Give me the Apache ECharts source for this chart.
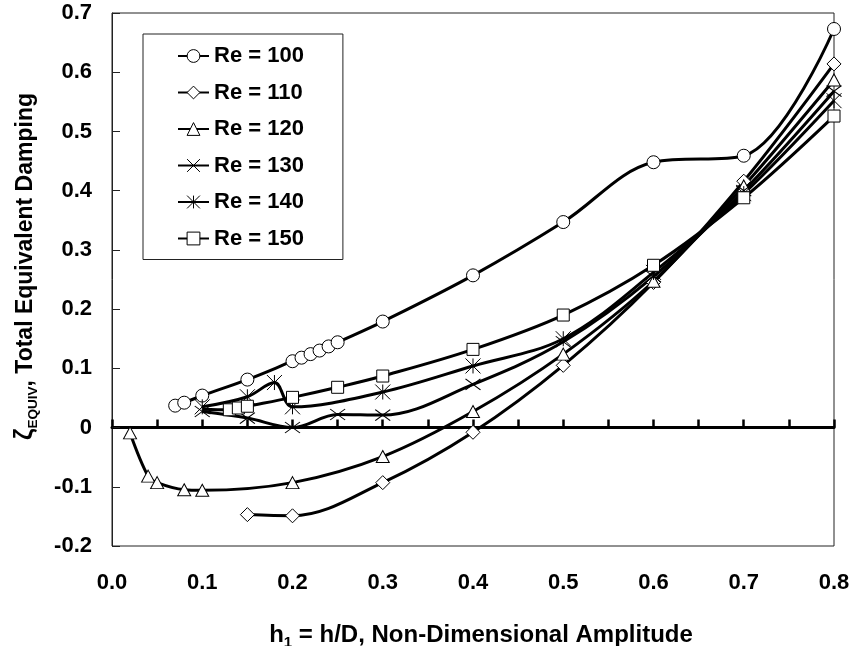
<!DOCTYPE html>
<html>
<head>
<meta charset="utf-8">
<script src="https://cdn.jsdelivr.net/npm/echarts@6/dist/echarts.min.js"></script>
<style>
html,body{margin:0;padding:0;background:#fff}
#c{width:854px;height:646px}
</style>
</head>
<body>
<div id="c"></div>
<script>
// ---------- data ----------
const seriesNames = ['Re = 100', 'Re = 110', 'Re = 120', 'Re = 130', 'Re = 140', 'Re = 150'];

const h100 = [0.07, 0.08, 0.10, 0.15, 0.20, 0.21, 0.22, 0.23, 0.24, 0.25, 0.30, 0.40, 0.50, 0.60, 0.70, 0.80];
const z100 = [0.037, 0.042, 0.054, 0.081, 0.112, 0.118, 0.124, 0.130, 0.137, 0.144, 0.179, 0.257, 0.347, 0.448, 0.459, 0.673];

const h110 = [0.15, 0.20, 0.30, 0.40, 0.50, 0.60, 0.70, 0.80];
const z110 = [-0.147, -0.149, -0.093, -0.008, 0.105, 0.245, 0.416, 0.614];

const h120 = [0.02, 0.04, 0.05, 0.08, 0.10, 0.20, 0.30, 0.40, 0.50, 0.60, 0.70, 0.80];
const z120 = [-0.009, -0.082, -0.093, -0.105, -0.106, -0.093, -0.049, 0.027, 0.124, 0.247, 0.408, 0.587];

const h130 = [0.10, 0.15, 0.20, 0.25, 0.30, 0.40, 0.50, 0.60, 0.70, 0.80];
const z130 = [0.027, 0.016, 0.000, 0.022, 0.021, 0.073, 0.145, 0.255, 0.400, 0.568];

const h140 = [0.10, 0.15, 0.18, 0.20, 0.30, 0.40, 0.50, 0.60, 0.70, 0.80];
const z140 = [0.035, 0.052, 0.076, 0.035, 0.060, 0.104, 0.150, 0.262, 0.395, 0.552];

const h150 = [0.10, 0.13, 0.14, 0.15, 0.20, 0.25, 0.30, 0.40, 0.50, 0.60, 0.70, 0.80];
const z150 = [0.031, 0.030, 0.033, 0.036, 0.051, 0.068, 0.087, 0.132, 0.190, 0.274, 0.388, 0.526];
const hiddenMarkers150 = [0];   // point drawn as line only (no visible marker)

const xTickLabels = ['0.0', '0.1', '0.2', '0.3', '0.4', '0.5', '0.6', '0.7', '0.8'];
const yTickLabels = ['-0.2', '-0.1', '0', '0.1', '0.2', '0.3', '0.4', '0.5', '0.6', '0.7'];

const xTitle = ['h', '1', ' = h/D, Non-Dimensional Amplitude'];
const yTitle = ['ζ', 'EQUIV', ', Total Equivalent Damping'];

// ---------- chart ----------
const X_MIN = 0, X_MAX = 0.8, X_STEP = 0.1;
const Y_MIN = -0.2, Y_MAX = 0.7, Y_STEP = 0.1;
const FONT = '"Liberation Sans", Arial, Helvetica, sans-serif';

const X_PATH = 'path://M0,0L20,14M20,0L0,14';
const STAR_PATH = 'path://M0,0L14,14M14,0L0,14M7,0L7,14';

const symbols = ['circle', 'diamond', 'triangle', X_PATH, STAR_PATH, 'rect'];
const symbolSizes = [13, 14, [13, 12], [15, 11], 15, 12];
const xs = [h100, h110, h120, h130, h140, h150];
const ys = [z100, z110, z120, z130, z140, z150];
const hidden = [[], [], [], [], [], hiddenMarkers150];

const series = seriesNames.map((name, i) => ({
  name: name,
  type: 'line',
  xAxisIndex: 0,
  yAxisIndex: 0,
  smooth: 0.35,
  symbol: symbols[i],
  symbolSize: symbolSizes[i],
  showSymbol: true,
  showAllSymbol: true,
  clip: false,
  lineStyle: { color: '#000', width: 3 },
  itemStyle: { color: '#fff', borderColor: '#000', borderWidth: 1 },
  emphasis: { disabled: true },
  data: xs[i].map((x, k) => hidden[i].indexOf(k) >= 0
      ? { value: [x, ys[i][k]], symbol: 'none' }
      : [x, ys[i][k]])
}));

const chart = echarts.init(document.getElementById('c'), null, { renderer: 'canvas' });

chart.setOption({
  animation: false,
  backgroundColor: '#fff',
  grid: {
    left: 112, right: 20, top: 13, bottom: 100,
    show: true, borderColor: '#222', borderWidth: 1, backgroundColor: 'transparent',
    containLabel: false, outerBoundsMode: 'none'
  },
  legend: {
    show: true,
    orient: 'vertical',
    left: 143, top: 34,
    padding: [11, 39, 10, 34],
    itemWidth: 31, itemHeight: 16, itemGap: 14.5,
    backgroundColor: '#fff', borderColor: '#222', borderWidth: 1,
    selectedMode: false,
    itemStyle: { borderWidth: 1 },
    textStyle: { fontFamily: FONT, fontSize: 22, fontWeight: 'bold', color: '#000' },
    data: seriesNames
  },
  xAxis: [
    {
      type: 'value', position: 'bottom', gridIndex: 0,
      min: X_MIN, max: X_MAX, interval: 0.05,
      axisLine: { show: true, onZero: true, lineStyle: { color: '#000', width: 3 } },
      axisTick: { show: true, inside: true, length: 8, lineStyle: { color: '#000', width: 2.5 } },
      axisLabel: { show: false },
      splitLine: { show: false }
    },
    {
      type: 'value', position: 'bottom', gridIndex: 0,
      min: X_MIN, max: X_MAX, interval: X_STEP,
      axisLine: { show: false, onZero: false },
      axisTick: { show: false },
      splitLine: { show: false },
      axisLabel: {
        margin: 26, fontFamily: FONT, fontSize: 22, fontWeight: 'bold', color: '#000',
        formatter: v => xTickLabels[Math.round((v - X_MIN) / X_STEP)]
      },
      name: '{a|' + xTitle[0] + '}{s|' + xTitle[1] + '}{a|' + xTitle[2] + '}',
      nameLocation: 'middle',
      nameGap: 74,
      nameMoveOverlap: false,
      nameTextStyle: {
        padding: [0, 0, 0, 16],
        rich: {
          a: { fontFamily: FONT, fontSize: 24, fontWeight: 'bold', color: '#000', lineHeight: 30 },
          s: { fontFamily: FONT, fontSize: 15, fontWeight: 'bold', color: '#000', lineHeight: 15, verticalAlign: 'bottom' }
        }
      }
    }
  ],
  yAxis: {
    type: 'value', min: Y_MIN, max: Y_MAX, interval: Y_STEP,
    axisLine: { show: true, onZero: false, lineStyle: { color: '#222', width: 1 } },
    axisTick: { show: true, inside: true, length: 8, lineStyle: { color: '#222', width: 1 } },
    splitLine: { show: false },
    axisLabel: {
      margin: 20, fontFamily: FONT, fontSize: 22, fontWeight: 'bold', color: '#000',
      formatter: v => yTickLabels[Math.round((v - Y_MIN) / Y_STEP)]
    },
    name: '{z|' + yTitle[0] + '}{e|' + yTitle[1] + '}{t|' + yTitle[2] + '}',
    nameLocation: 'middle',
    nameGap: 72,
    nameMoveOverlap: false,
    nameTextStyle: {
      padding: [0, 0, 0, 26],
      rich: {
        z: { fontFamily: FONT, fontSize: 25, fontWeight: 'bold', color: '#000', lineHeight: 29 },
        e: { fontFamily: FONT, fontSize: 13.5, fontWeight: 'bold', color: '#000', lineHeight: 13.5, verticalAlign: 'bottom' },
        t: { fontFamily: FONT, fontSize: 23, fontWeight: 'bold', color: '#000', lineHeight: 29 }
      }
    }
  },
  series: series
});
</script>
</body>
</html>
